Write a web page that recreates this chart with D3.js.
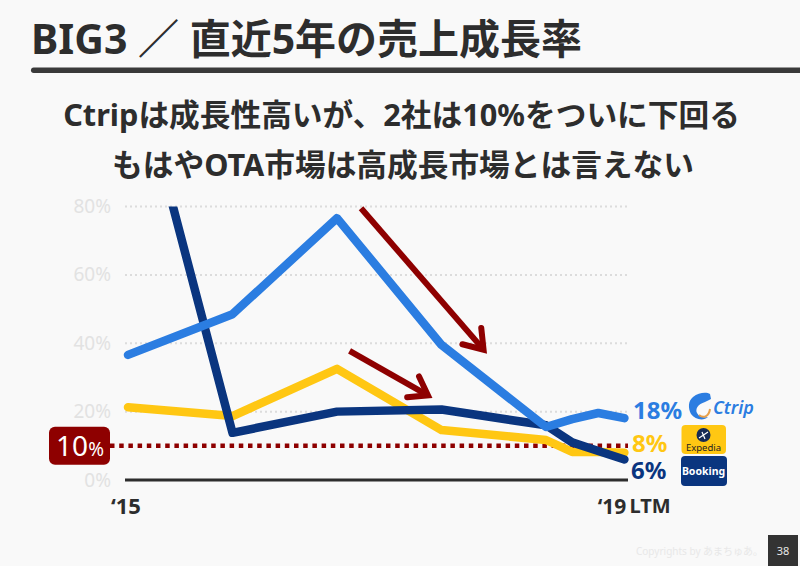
<!DOCTYPE html>
<html>
<head>
<meta charset="utf-8">
<script src="https://cdn.jsdelivr.net/npm/d3@7"></script>
<style>
  html, body { margin: 0; padding: 0; background: #f9f9f9; overflow: hidden; }
  text { font-family: "Noto Sans", "Noto Sans CJK JP", sans-serif; }
</style>
</head>
<body>
<div id="my_dataviz"></div>
<script>
// values, in % growth per period
var periods = [2015, 2016, 2017, 2018, 2019, 2019.25, 2019.5, 2019.75];
var ctrip = [36.6, 48.5, 76.6, 39.5, 15.5, 17.8, 19.6, 18.1];
var expedia = [21.3, 18.7, 32.5, 14.6, 11.7, 8.2, 8.2, 8];
var booking = [130, 13.8, 20, 20.6, 16, 11, 8.5, 6];
var yTicks = [0, 20, 40, 60, 80];
var threshold = 10;
var endLabels = ["18%", "8%", "6%"];
var titleText = "BIG3 ／ 直近5年の売上成長率";
var subtitleLines = ["Ctripは成長性高いが、2社は10%をついに下回る", "もはやOTA市場は高成長市場とは言えない"];

// trend arrows, [period, value] from tail to tip
var bigArrow = [[2017.23, 79.5], [2018.44, 36.8]];
var smallArrow = [[2017.12, 37.8], [2017.92, 23.9]];

var colors = {ctrip: "#2b7de1", expedia: "#ffc713", booking: "#0a357f", red: "#8e0000", ink: "#2d2d2d"};

var width = 800, height = 566;

var svg = d3.select("#my_dataviz")
  .append("svg")
    .attr("width", width)
    .attr("height", height)
    .style("display", "block");

svg.append("rect").attr("width", width).attr("height", height).attr("fill", "#f9f9f9");

// keeps the Booking line under the 80% grid line
svg.append("defs").append("clipPath").attr("id", "plot-clip")
  .append("rect").attr("x", 100).attr("y", 206.5).attr("width", 600).attr("height", 300);

// heading
svg.append("text")
  .attr("x", 31).attr("y", 54)
  .attr("font-size", 41).attr("font-weight", 700).attr("fill", colors.ink)
  .text(titleText);

svg.append("rect")
  .attr("x", 31).attr("y", 67.5).attr("width", 790).attr("height", 5.5).attr("rx", 2.7)
  .attr("fill", "#3a3a3a");

svg.selectAll(".subtitle")
  .data(subtitleLines)
  .enter()
  .append("text")
    .attr("class", "subtitle")
    .attr("x", function(d, i) { return i ? 403 : 401.5; })
    .attr("y", function(d, i) { return 126 + i * 50; })
    .attr("text-anchor", "middle")
    .attr("font-size", 30.7).attr("font-weight", 700).attr("fill", colors.ink)
    .text(function(d) { return d; });

var x = d3.scaleLinear()
  .domain([2015, 2019.75])
  .range([128, 624.4]);

var y = d3.scaleLinear()
  .domain([0, 80])
  .range([480, 206.5]);

// Y axis with dotted grid lines
var yAxis = svg.append("g")
  .attr("transform", "translate(125,0)")
  .call(d3.axisLeft(y).tickValues(yTicks).tickFormat(function(d) { return d + "%"; }).tickSize(0).tickPadding(14));
yAxis.select(".domain").remove();
yAxis.selectAll("text")
  .attr("font-size", 19).attr("fill", "#e2e2e2")
  .style("font-family", '"Noto Sans", sans-serif');

svg.selectAll(".grid")
  .data(yTicks.slice(1))
  .enter()
  .append("line")
    .attr("class", "grid")
    .attr("x1", 125).attr("x2", 628)
    .attr("y1", function(d) { return y(d); })
    .attr("y2", function(d) { return y(d); })
    .attr("stroke", "#dcdcdc").attr("stroke-width", 2).attr("stroke-dasharray", "2,3");

// baseline and 10% line
svg.append("line")
  .attr("x1", 125).attr("x2", 628)
  .attr("y1", y(0)).attr("y2", y(0))
  .attr("stroke", colors.ink).attr("stroke-width", 3);

svg.append("line")
  .attr("x1", 110).attr("x2", 628)
  .attr("y1", y(threshold)).attr("y2", y(threshold))
  .attr("stroke", colors.red).attr("stroke-width", 4.5).attr("stroke-dasharray", "4.5,4.7");

svg.append("rect")
  .attr("x", 49).attr("y", y(threshold) - 19).attr("width", 61).attr("height", 38).attr("rx", 6)
  .attr("fill", colors.red);

var badge = svg.append("text")
  .attr("x", 80).attr("y", y(threshold) + 10.5)
  .attr("text-anchor", "middle").attr("fill", "#ffffff");
badge.append("tspan").attr("font-size", 28).text(threshold);
badge.append("tspan").attr("font-size", 19).text("%");

// Lines
var line = d3.line()
  .x(function(d, i) { return x(periods[i]); })
  .y(function(d) { return y(d); });

function addLine(values, color) {
  svg.append("path")
    .datum(values)
    .attr("clip-path", "url(#plot-clip)")
    .attr("fill", "none")
    .attr("stroke", color)
    .attr("stroke-width", 8.5)
    .attr("stroke-linecap", "round")
    .attr("stroke-linejoin", "round")
    .attr("d", line);
}
addLine(expedia, colors.expedia);
addLine(booking, colors.booking);
addLine(ctrip, colors.ctrip);

// trend arrows
function addArrow(a, head) {
  var x1 = x(a[0][0]), y1 = y(a[0][1]), x2 = x(a[1][0]), y2 = y(a[1][1]);
  var ang = Math.atan2(y2 - y1, x2 - x1);
  var wing = function(d) { return [x2 - head * Math.cos(ang + d), y2 - head * Math.sin(ang + d)]; };
  svg.append("path")
    .attr("fill", "none").attr("stroke", colors.red).attr("stroke-width", 6)
    .attr("d", "M" + x1 + "," + y1 + "L" + (x2 - 6 * Math.cos(ang)) + "," + (y2 - 6 * Math.sin(ang)));
  svg.append("path")
    .attr("fill", "none").attr("stroke", colors.red).attr("stroke-width", 6)
    .attr("stroke-linecap", "round").attr("stroke-linejoin", "miter").attr("stroke-miterlimit", 10)
    .attr("d", "M" + wing(0.48) + "L" + (x2 - 6 * Math.cos(ang)) + "," + (y2 - 6 * Math.sin(ang)) + "L" + wing(-0.48));
}
addArrow(bigArrow, 27);
addArrow(smallArrow, 26);

// X labels
svg.append("text").attr("x", 126).attr("y", 514).attr("text-anchor", "middle")
  .attr("font-size", 22).attr("font-weight", 700).attr("fill", colors.ink).text("‘15");
svg.append("text").attr("x", 612).attr("y", 514).attr("text-anchor", "middle")
  .attr("font-size", 21).attr("font-weight", 700).attr("fill", colors.ink).text("‘19");
svg.append("text").attr("x", 650).attr("y", 513).attr("text-anchor", "middle")
  .attr("font-size", 20).attr("font-weight", 700).attr("fill", colors.ink).text("LTM");

// end labels
var endColors = [colors.ctrip, colors.expedia, colors.booking];
var endY = [419, 452, 479];
var endX = [633, 632, 631];
svg.selectAll(".end")
  .data(endLabels)
  .enter()
  .append("text")
    .attr("class", "end")
    .attr("x", function(d, i) { return endX[i]; })
    .attr("y", function(d, i) { return endY[i]; })
    .attr("font-size", 24).attr("font-weight", 700)
    .attr("fill", function(d, i) { return endColors[i]; })
    .text(function(d) { return d; });

// Ctrip logo
var ctripLogo = svg.append("g");
ctripLogo.append("path")
  .attr("d", "M693,397 C699,392 707,392 710,394 L711,399 L705,402 C698,404 695,409 697,413 C699,417 704,418 708,417 C704,421 695,420 691,414 C688,408 688,401 693,397 Z")
  .attr("fill", colors.ctrip);
ctripLogo.append("path")
  .attr("d", "M699,415 C704,419 709,416 710,409")
  .attr("fill", "none").attr("stroke", "#e8a04a").attr("stroke-width", 2);
ctripLogo.append("text")
  .attr("x", 713).attr("y", 414)
  .attr("font-size", 18).attr("font-style", "italic").attr("font-weight", 600)
  .attr("fill", colors.ctrip).text("Ctrip");

// Expedia logo
svg.append("rect").attr("x", 681.5).attr("y", 425).attr("width", 44.5).attr("height", 29).attr("rx", 4).attr("fill", colors.expedia);
svg.append("circle").attr("cx", 703.5).attr("cy", 435).attr("r", 7).attr("fill", "#152a55");
svg.append("path").attr("d", "M699,438 L708,432 M702,432 L705,439").attr("stroke", "#ffffff").attr("stroke-width", 1.2);
svg.append("text").attr("x", 703.5).attr("y", 450.5).attr("text-anchor", "middle")
  .attr("font-size", 9.5).attr("fill", "#222").text("Expedia");

// Booking logo
svg.append("rect").attr("x", 681).attr("y", 456).attr("width", 46).attr("height", 30).attr("rx", 4).attr("fill", colors.booking);
svg.append("text").attr("x", 703.5).attr("y", 474.5).attr("text-anchor", "middle")
  .attr("font-size", 10.5).attr("font-weight", 700).attr("fill", "#ffffff").text("Booking");

// footer
svg.append("text").attr("x", 636).attr("y", 555)
  .attr("font-size", 10).attr("fill", "#e8e8e8").text("Copyrights by あまちゅあ。");
svg.append("rect").attr("x", 768).attr("y", 535).attr("width", 30).attr("height", 31).attr("fill", "#333333");
svg.append("text").attr("x", 783).attr("y", 555).attr("text-anchor", "middle")
  .attr("font-size", 11).attr("fill", "#e8e8e8").text("38");
</script>
</body>
</html>
